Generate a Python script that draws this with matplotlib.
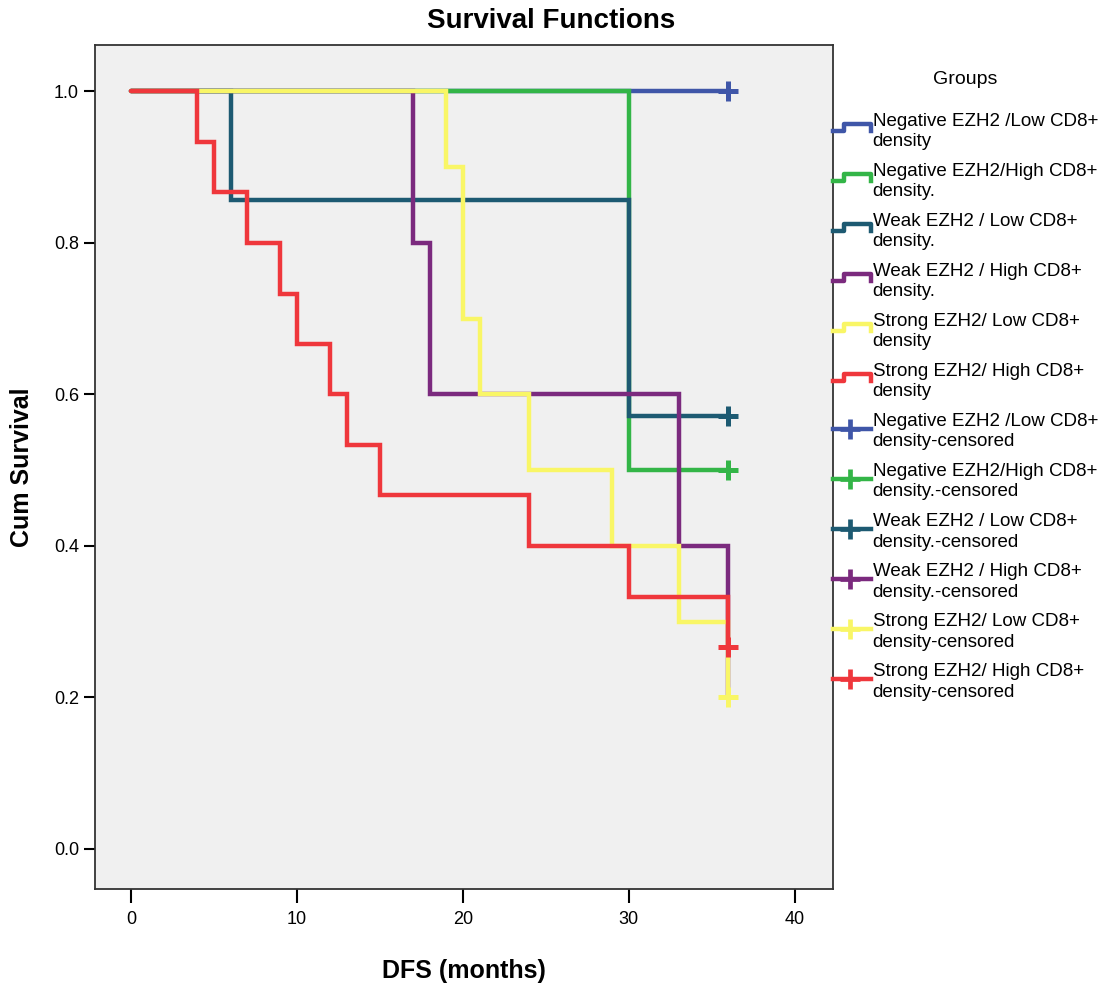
import matplotlib
matplotlib.use("Agg")
import matplotlib.pyplot as plt
from matplotlib.lines import Line2D
from matplotlib.legend_handler import HandlerBase
import numpy as np

# ---------------- data ----------------
groups = [
    "Negative EZH2 /Low CD8+\ndensity",
    "Negative EZH2/High CD8+\ndensity.",
    "Weak EZH2 / Low CD8+\ndensity.",
    "Weak EZH2 / High CD8+\ndensity.",
    "Strong EZH2/ Low CD8+\ndensity",
    "Strong EZH2/ High CD8+\ndensity",
]
censored_labels = [
    "Negative EZH2 /Low CD8+\ndensity-censored",
    "Negative EZH2/High CD8+\ndensity.-censored",
    "Weak EZH2 / Low CD8+\ndensity.-censored",
    "Weak EZH2 / High CD8+\ndensity.-censored",
    "Strong EZH2/ Low CD8+\ndensity-censored",
    "Strong EZH2/ High CD8+\ndensity-censored",
]

neg_low_t = [0, 36]
neg_low_s = [1.0, 1.0]
neg_high_t = [0, 30, 36]
neg_high_s = [1.0, 0.5, 0.5]
weak_low_t = [0, 6, 30, 36]
weak_low_s = [1.0, 0.857, 0.571, 0.571]
weak_high_t = [0, 17, 18, 33, 36]
weak_high_s = [1.0, 0.8, 0.6, 0.4, 0.2]
strong_low_t = [0, 19, 20, 21, 24, 29, 33, 36]
strong_low_s = [1.0, 0.9, 0.7, 0.6, 0.5, 0.4, 0.3, 0.2]
strong_high_t = [0, 4, 5, 7, 9, 10, 12, 13, 15, 24, 30, 36]
strong_high_s = [1.0, 0.933, 0.867, 0.8, 0.733, 0.667, 0.6, 0.533, 0.467, 0.4, 0.333, 0.267]

# censored points (time, survival) per group; None = no censoring
cens_t = [36, 36, 36, None, 36, 36]
cens_s = [1.0, 0.5, 0.571, None, 0.2, 0.267]

colors = ["#3F56A8", "#33B547", "#1D5A72", "#7B2A7E", "#F9F666", "#EF373C"]

series_t = [neg_low_t, neg_high_t, weak_low_t, weak_high_t, strong_low_t, strong_high_t]
series_s = [neg_low_s, neg_high_s, weak_low_s, weak_high_s, strong_low_s, strong_high_s]

x_ticks = [0, 10, 20, 30, 40]
y_ticks = [0.0, 0.2, 0.4, 0.6, 0.8, 1.0]

# ---------------- plot ----------------
plt.rcParams['font.family'] = ['Liberation Sans', 'DejaVu Sans']

fig = plt.figure(figsize=(11.09, 9.89), dpi=100)
ax = fig.add_axes([95 / 1109, 1 - 889 / 989, (833 - 95) / 1109, (889 - 45) / 989])
ax.set_facecolor("#F0F0F0")

LW = 3.2
for t, s, c in zip(series_t, series_s, colors):
    ax.plot(t, s, drawstyle="steps-post", color=c, lw=LW,
            solid_capstyle="round", solid_joinstyle="miter")
for ct, cs, c in zip(cens_t, cens_s, colors):
    if ct is not None:
        ax.plot([ct], [cs], marker="+", ms=15, mew=3.6, color=c, ls="none")

ax.set_xlim(-2.17, 42.3)
ax.set_ylim(-0.053, 1.061)
ax.set_xticks(x_ticks)
ax.set_yticks(y_ticks)
ax.set_yticklabels([f"{v:.1f}" for v in y_ticks])
ax.tick_params(axis="both", direction="out", length=8, width=1.5, labelsize=13,
               colors="black")
ax.tick_params(axis="x", length=10, pad=6)
for sp in ax.spines.values():
    sp.set_color("#333333")
    sp.set_linewidth(1.3)

ax.set_xlabel("DFS (months)", fontsize=18, fontweight="bold", labelpad=22)
ax.set_ylabel("Cum Survival", fontsize=18, fontweight="bold", labelpad=14)
fig.suptitle("Survival Functions", fontsize=20, fontweight="bold", x=0.497, y=0.992)


# ---------------- legend ----------------
class StepHandler(HandlerBase):
    def create_artists(self, legend, orig_handle, xdescent, ydescent, width, height,
                       fontsize, trans):
        x0, x1 = -xdescent, -xdescent + width
        ylo = -ydescent + height * 0.55
        yhi = -ydescent + height * 1.1
        xs = [x0, x0 + width * 0.3, x0 + width * 0.3, x1, x1]
        ys = [ylo, ylo, yhi, yhi, ylo]
        ln = Line2D(xs, ys, color=orig_handle.get_color(), lw=LW,
                    solid_joinstyle="round", transform=trans)
        return [ln]


class CensHandler(HandlerBase):
    def create_artists(self, legend, orig_handle, xdescent, ydescent, width, height,
                       fontsize, trans):
        x0, x1 = -xdescent, -xdescent + width
        ym = -ydescent + height * 0.7
        ln = Line2D([x0, x1], [ym, ym], color=orig_handle.get_color(), lw=LW,
                    transform=trans)
        mk = Line2D([x0 + width * 0.45], [ym], marker="+", ms=15, mew=3.4,
                    color=orig_handle.get_color(), ls="none", transform=trans)
        return [ln, mk]


class StepLine(Line2D):
    pass


class CensLine(Line2D):
    pass


handles = [StepLine([], [], color=c) for c in colors] + \
          [CensLine([], [], color=c) for c in colors]
labels = groups + censored_labels

leg = fig.legend(handles, labels, loc="upper left",
                 bbox_to_anchor=(829 / 1109, 1 - 67 / 989),
                 frameon=False, title="Groups", fontsize=13.5, title_fontsize=14,
                 handlelength=2.05, handletextpad=0.08, labelspacing=0.66,
                 borderpad=0.2, borderaxespad=0.0,
                 handler_map={StepLine: StepHandler(), CensLine: CensHandler()})
for txt in leg.get_texts():
    txt.set_linespacing(1.28)
leg._legend_box.sep = 18
leg._legend_box.align = "center"

fig.savefig("out.png", dpi=100, facecolor="white")
